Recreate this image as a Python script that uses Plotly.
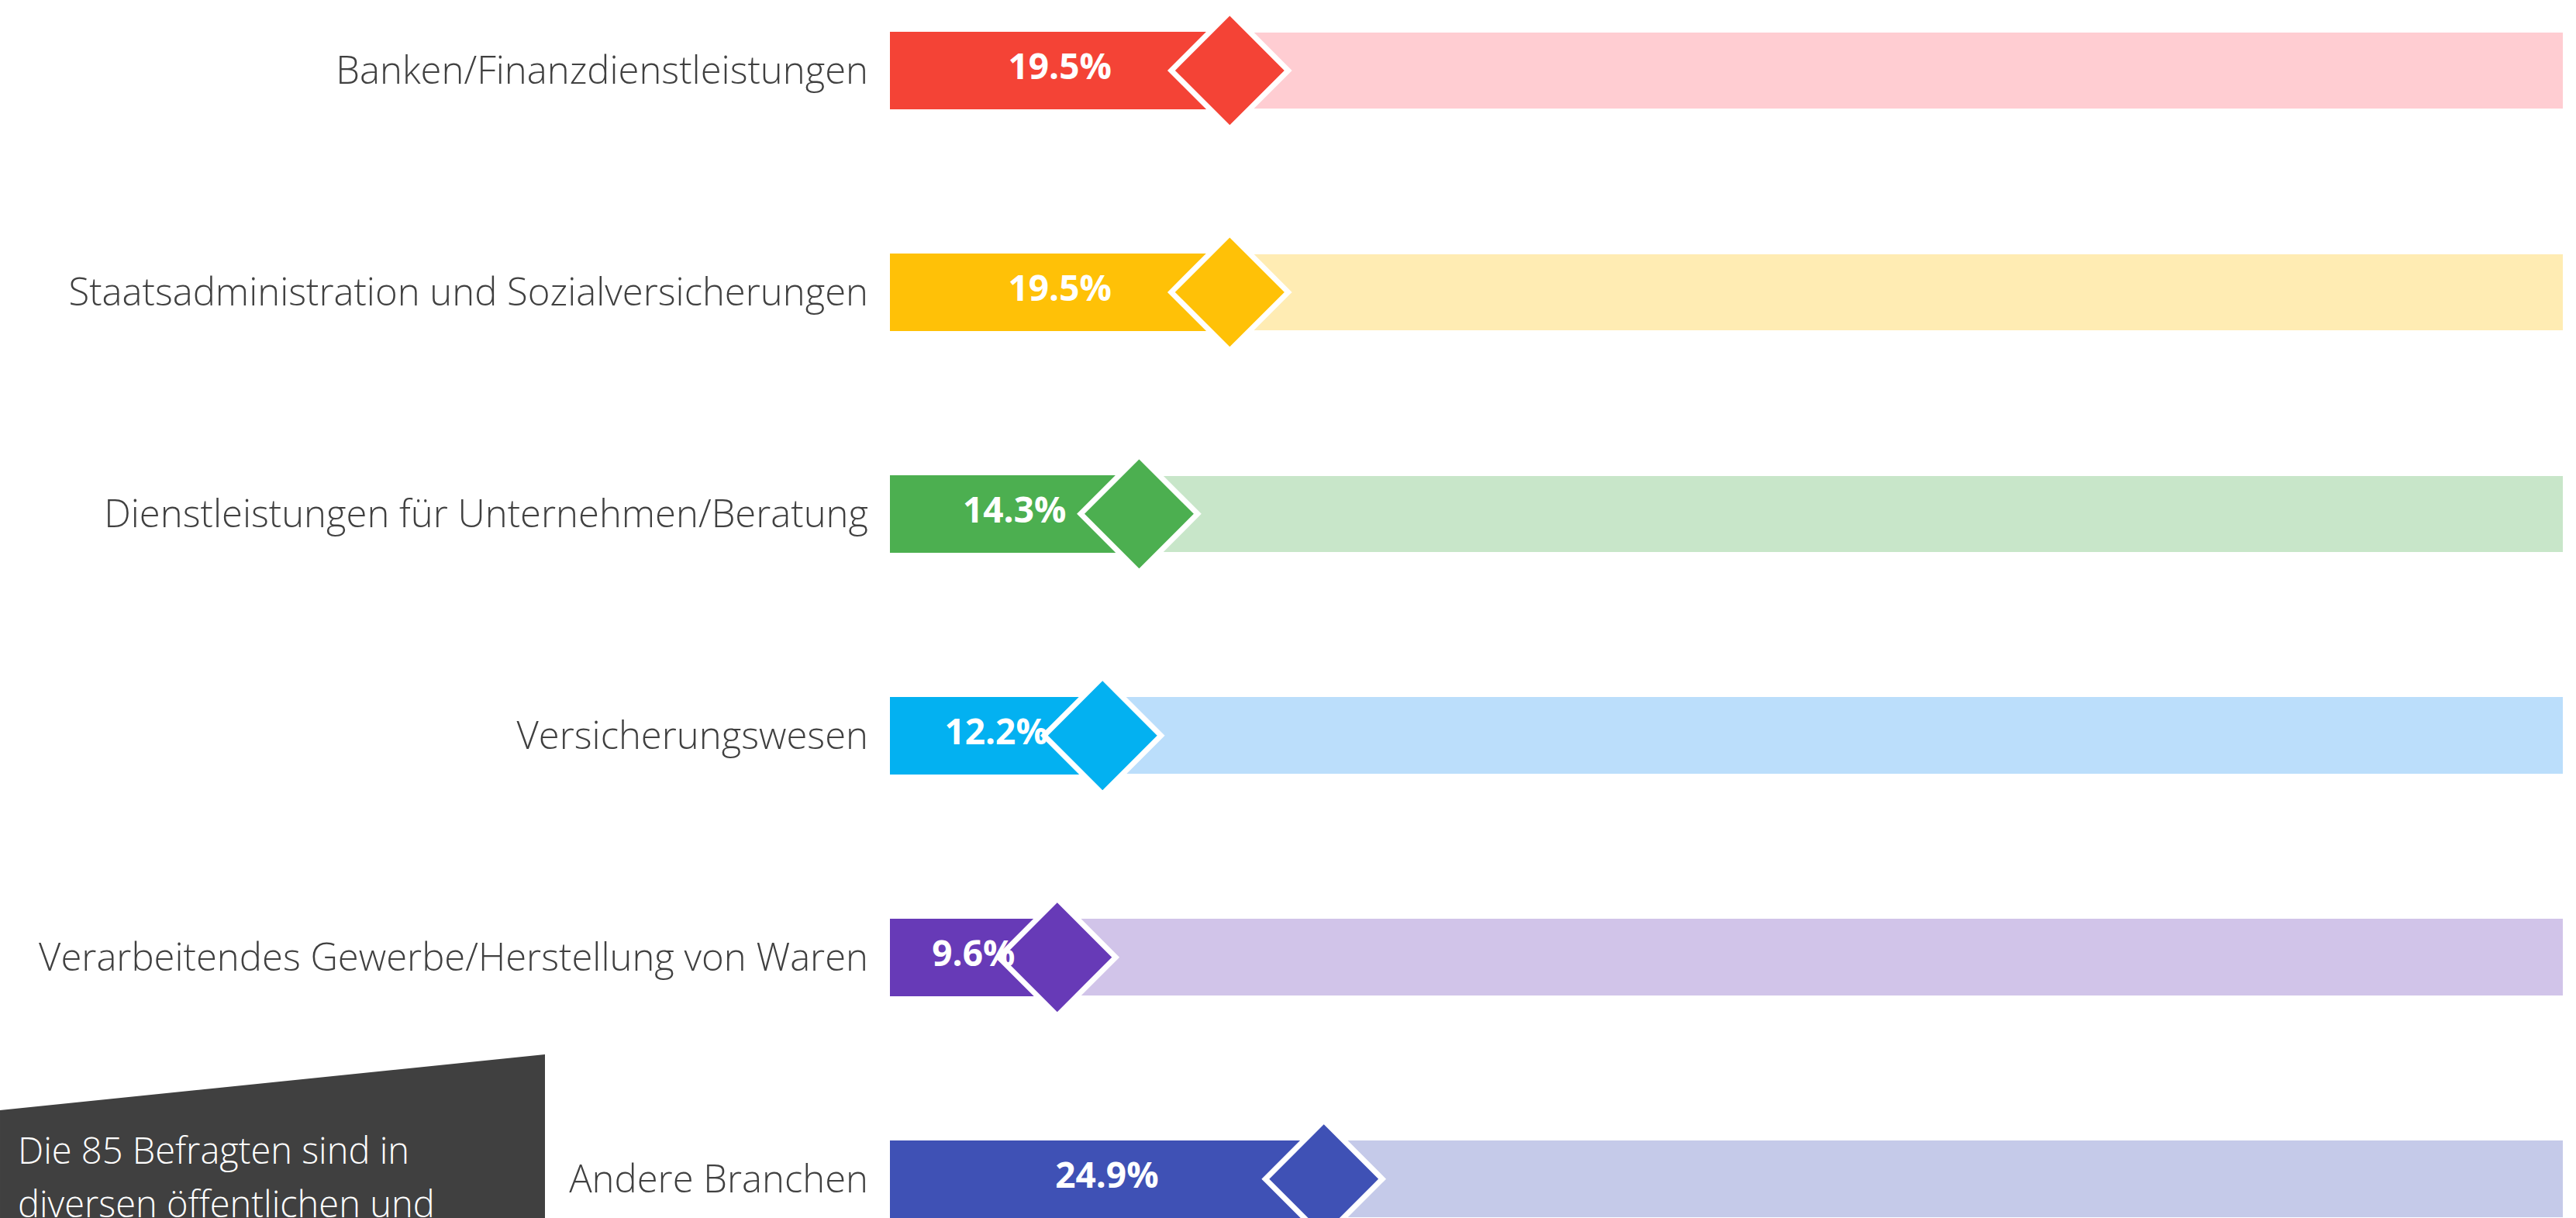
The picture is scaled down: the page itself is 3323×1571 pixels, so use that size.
import plotly.graph_objects as go

categories = [
    "Banken/Finanzdienstleistungen",
    "Staatsadministration und Sozialversicherungen",
    "Dienstleistungen für Unternehmen/Beratung",
    "Versicherungswesen",
    "Verarbeitendes Gewerbe/Herstellung von Waren",
    "Andere Branchen",
]
values = [19.5, 19.5, 14.3, 12.2, 9.6, 24.9]
track_total = [100, 100, 100, 100, 100, 100]
value_labels = ["19.5%", "19.5%", "14.3%", "12.2%", "9.6%", "24.9%"]

main_colors = ["#F44336", "#FFC107", "#4CAF50", "#03B1F1", "#673AB7", "#3F51B5"]
pale_colors = ["#FFCDD2", "#FFECB3", "#C8E6C9", "#BBDEFB", "#D1C4E9", "#C5CAE9"]

note_lines = ["Die 85 Befragten sind in", "diversen öffentlichen und"]

W, H = 3323, 1571
ML, MR = 1148, 17
PW = W - ML - MR

fig = go.Figure()

# pale track (full scale)
fig.add_trace(go.Bar(
    y=categories, x=track_total, orientation="h",
    marker=dict(color=pale_colors, line=dict(width=0)),
    width=0.345, hoverinfo="skip", showlegend=False,
))
# coloured value bar
fig.add_trace(go.Bar(
    y=categories, x=values, orientation="h",
    marker=dict(color=main_colors, line=dict(width=0)),
    width=0.35, hoverinfo="skip", showlegend=False,
))
# diamonds at the value
fig.add_trace(go.Scatter(
    y=categories, x=values, mode="markers",
    marker=dict(symbol="diamond", size=116, color=main_colors,
                line=dict(color="white", width=7)),
    hoverinfo="skip", showlegend=False,
))
# value labels, centred on each bar
fig.add_trace(go.Scatter(
    y=categories, x=[v / 2 for v in values], mode="text",
    text=value_labels, textposition="middle center",
    textfont=dict(family="Open Sans", size=46, color="white", weight="bold"),
    hoverinfo="skip", showlegend=False, cliponaxis=False,
))

def px_x(p):
    return (p - ML) / PW

def px_y(p):
    return 1 - p / H

# dark note box (decoration)
pts = [(0, 1432), (703, 1360), (703, 1650), (0, 1650)]
path = "M " + " L ".join(f"{px_x(x):.5f},{px_y(y):.5f}" for x, y in pts) + " Z"
fig.add_shape(type="path", xref="paper", yref="paper", path=path,
              fillcolor="#404040", line=dict(width=0), layer="above")

for line, ypx in zip(note_lines, [1483, 1552]):
    fig.add_annotation(
        xref="paper", yref="paper", x=px_x(21), y=px_y(ypx),
        xanchor="left", yanchor="middle", showarrow=False, text=line,
        font=dict(family="Open Sans", size=47, color="white", weight=300),
    )

fig.update_layout(
    width=W, height=H,
    margin=dict(l=ML, r=MR, t=0, b=0, autoexpand=False),
    paper_bgcolor="white", plot_bgcolor="white",
    barmode="overlay", bargap=0,
    xaxis=dict(range=[0, 96], visible=False, showgrid=False, zeroline=False),
    yaxis=dict(
        type="category", categoryorder="array", categoryarray=categories,
        range=[5.176, -0.318], showgrid=False, zeroline=False, showline=False,
        ticks="", ticklabelstandoff=27, automargin=False,
        tickfont=dict(family="Open Sans", size=49, color="#404040", weight=300),
    ),
)

fig.write_html(
    "out.html",
    config={"displayModeBar": False},
    post_script="document.body.style.margin='0';document.body.style.overflow='hidden';",
)
